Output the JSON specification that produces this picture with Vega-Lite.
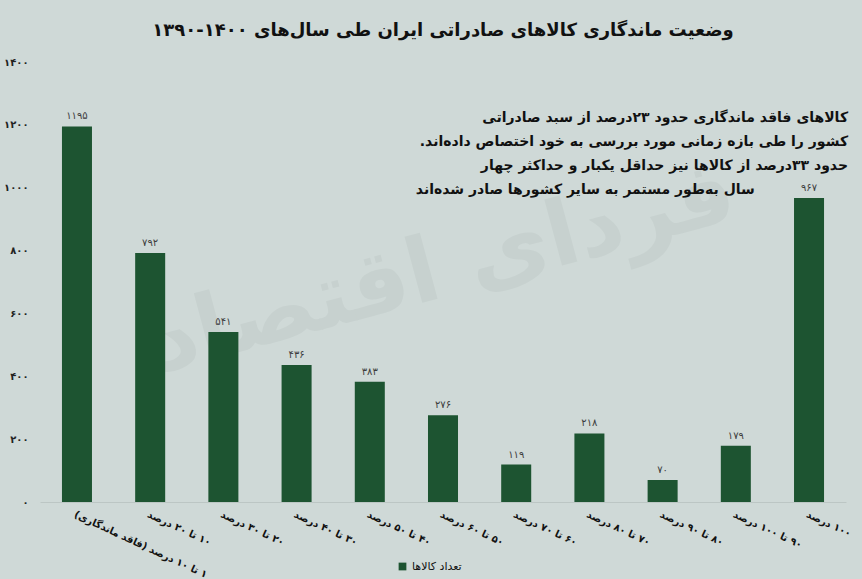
{
  "$schema": "https://vega.github.io/schema/vega-lite/v6.json",
  "width": 806,
  "height": 440,
  "autosize": {"type": "none"},
  "padding": {"left": 40, "top": 62, "right": 16, "bottom": 77},
  "background": "#cfd9d7",
  "title": {
    "text": "وضعیت ماندگاری کالاهای صادراتی ایران طی سال\u200cهای ۱۴۰۰-۱۳۹۰",
    "font": "DejaVu Sans",
    "fontSize": 18,
    "fontWeight": "bold",
    "color": "#111111",
    "anchor": "middle",
    "offset": 17
  },
  "config": {
    "view": {"stroke": null},
    "font": "DejaVu Sans",
    "legend": {
      "orient": "none",
      "legendX": 357,
      "legendY": 499,
      "direction": "horizontal",
      "symbolType": "square",
      "symbolSize": 60,
      "symbolStrokeWidth": 0,
      "labelFontSize": 11,
      "labelColor": "#111111",
      "labelFont": "DejaVu Sans",
      "title": null
    }
  },
  "datasets": {
    "main": [
      {"category": "\u200f۱ تا ۱۰ درصد (فاقد ماندگاری)\u200f", "count": 1195, "label": "۱۱۹۵"},
      {"category": "\u200f۱۰ تا ۲۰ درصد", "count": 792, "label": "۷۹۲"},
      {"category": "\u200f۲۰ تا ۳۰ درصد", "count": 541, "label": "۵۴۱"},
      {"category": "\u200f۳۰ تا ۴۰ درصد", "count": 436, "label": "۴۳۶"},
      {"category": "\u200f۴۰ تا ۵۰ درصد", "count": 383, "label": "۳۸۳"},
      {"category": "\u200f۵۰ تا ۶۰ درصد", "count": 276, "label": "۲۷۶"},
      {"category": "\u200f۶۰ تا ۷۰ درصد", "count": 119, "label": "۱۱۹"},
      {"category": "\u200f۷۰ تا ۸۰ درصد", "count": 218, "label": "۲۱۸"},
      {"category": "\u200f۸۰ تا ۹۰ درصد", "count": 70, "label": "۷۰"},
      {"category": "\u200f۹۰ تا ۱۰۰ درصد", "count": 179, "label": "۱۷۹"},
      {"category": "\u200f۱۰۰ درصد", "count": 967, "label": "۹۶۷"}
    ],
    "one": [{"note": "annotation"}]
  },
  "encoding": {
    "x": {
      "field": "category",
      "type": "nominal",
      "sort": null,
      "scale": {
        "domain": [
          "\u200f۱ تا ۱۰ درصد (فاقد ماندگاری)\u200f",
          "\u200f۱۰ تا ۲۰ درصد",
          "\u200f۲۰ تا ۳۰ درصد",
          "\u200f۳۰ تا ۴۰ درصد",
          "\u200f۴۰ تا ۵۰ درصد",
          "\u200f۵۰ تا ۶۰ درصد",
          "\u200f۶۰ تا ۷۰ درصد",
          "\u200f۷۰ تا ۸۰ درصد",
          "\u200f۸۰ تا ۹۰ درصد",
          "\u200f۹۰ تا ۱۰۰ درصد",
          "\u200f۱۰۰ درصد"
        ],
        "paddingInner": 0.59,
        "paddingOuter": 0.3
      },
      "axis": {
        "title": null,
        "labelAngle": 25,
        "labelFontSize": 10,
        "labelFontWeight": "bold",
        "labelColor": "#111111",
        "labelPadding": 7,
        "labelLimit": 300,
        "ticks": false,
        "domainColor": "#bcc6c4",
        "domainWidth": 1,
        "grid": false
      }
    }
  },
  "layer": [
    {
      "data": {"name": "one"},
      "mark": {"type": "text", "fontSize": 90, "fontWeight": "bold", "angle": -15, "color": "#c7d1cf", "align": "center", "baseline": "middle"},
      "encoding": {
        "x": {"datum": "\u200f۵۰ تا ۶۰ درصد", "type": "nominal"},
        "y": {"datum": 740, "type": "quantitative"},
        "text": {"value": "فردای اقتصاد"}
      }
    },
    {
      "data": {"name": "main"},
      "mark": {"type": "bar", "width": {"band": 1}},
      "encoding": {
        "y": {
          "field": "count",
          "type": "quantitative",
          "scale": {"domain": [0, 1400], "nice": false},
          "axis": {
            "title": null,
            "values": [0, 200, 400, 600, 800, 1000, 1200, 1400],
            "format": "d",
            "labelExpr": "replace(replace(replace(replace(replace(replace(replace(replace(replace(replace(datum.label, regexp('0','g'), '۰'), regexp('1','g'), '۱'), regexp('2','g'), '۲'), regexp('3','g'), '۳'), regexp('4','g'), '۴'), regexp('5','g'), '۵'), regexp('6','g'), '۶'), regexp('7','g'), '۷'), regexp('8','g'), '۸'), regexp('9','g'), '۹')",
            "labelFontSize": 10,
            "labelFontWeight": "bold",
            "labelColor": "#222222",
            "labelPadding": 12,
            "domain": false,
            "ticks": false,
            "grid": false
          }
        },
        "color": {
          "datum": "تعداد کالاها",
          "type": "nominal",
          "scale": {"range": ["#1d5431"]}
        }
      }
    },
    {
      "data": {"name": "main"},
      "mark": {"type": "text", "fontSize": 10, "color": "#3d3d3d", "baseline": "middle", "dy": -10},
      "encoding": {
        "y": {"field": "count", "type": "quantitative"},
        "text": {"field": "label"}
      }
    },
    {
      "data": {"name": "one"},
      "mark": {"type": "text", "fontSize": 14, "fontWeight": "bold", "color": "#111111", "align": "right", "baseline": "middle", "lineHeight": 24, "dx": 39},
      "encoding": {
        "x": {"datum": "\u200f۱۰۰ درصد", "type": "nominal"},
        "y": {"datum": 1222, "type": "quantitative"},
        "text": {"value": [
          "کالاهای فاقد ماندگاری حدود ۲۳درصد از سبد صادراتی",
          "کشور را طی بازه زمانی مورد بررسی به خود اختصاص داده\u200cاند.\u200f",
          "حدود ۳۳درصد از کالاها نیز حداقل یکبار و حداکثر چهار"
        ]}
      }
    },
    {
      "data": {"name": "one"},
      "mark": {"type": "text", "fontSize": 14, "fontWeight": "bold", "color": "#111111", "align": "right", "baseline": "middle", "dx": 19},
      "encoding": {
        "x": {"datum": "\u200f۹۰ تا ۱۰۰ درصد", "type": "nominal"},
        "y": {"datum": 993, "type": "quantitative"},
        "text": {"value": "سال به\u200cطور مستمر به سایر کشورها صادر شده\u200cاند"}
      }
    }
  ]
}
